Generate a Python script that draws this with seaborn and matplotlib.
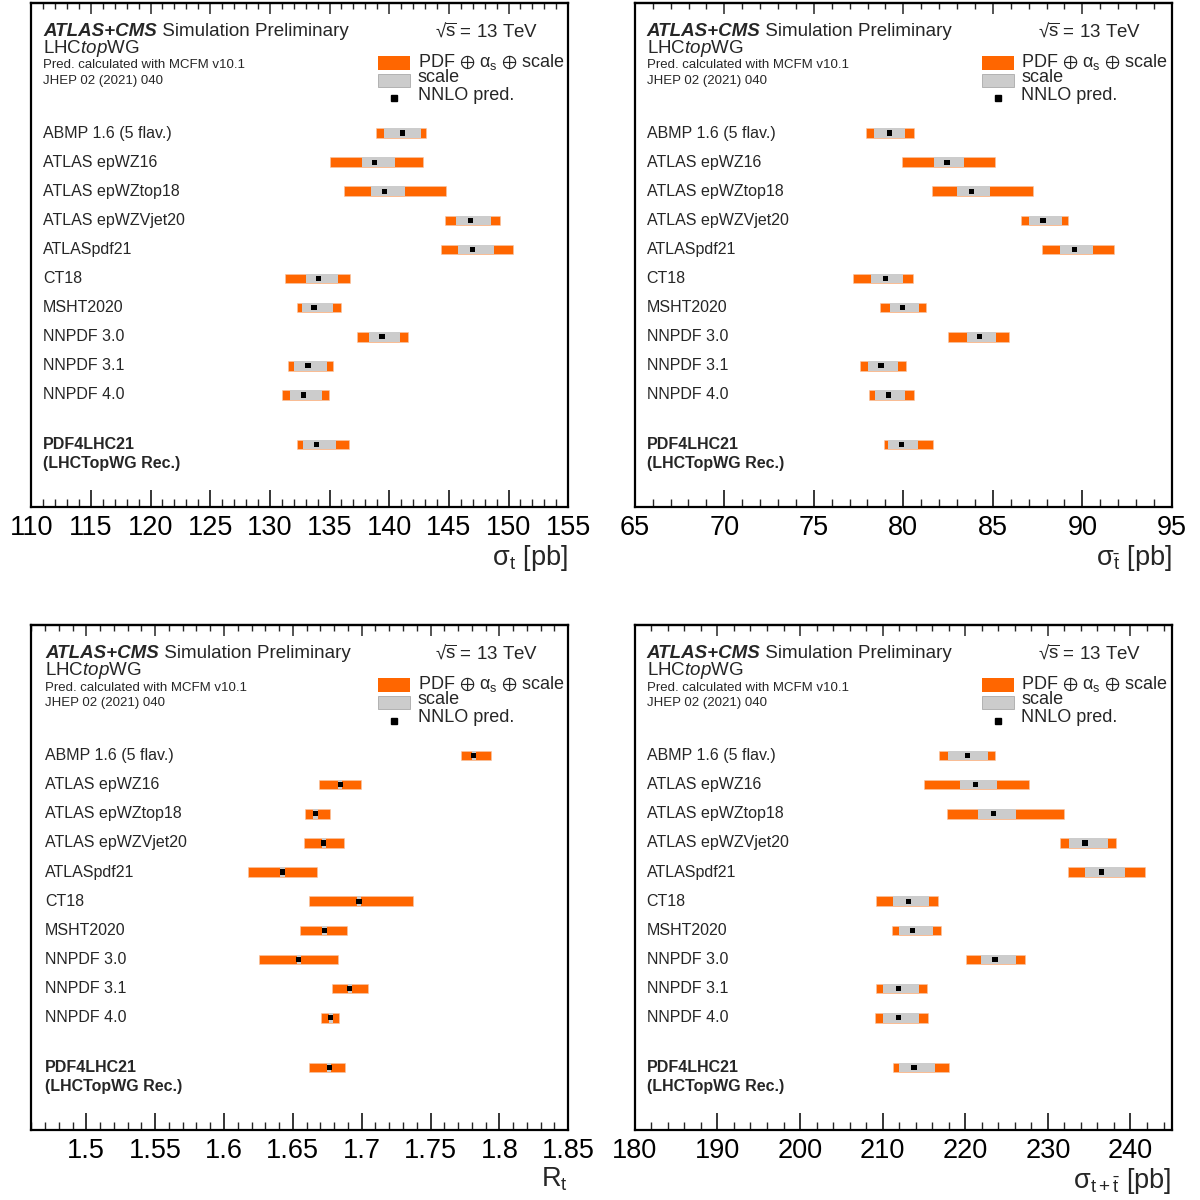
import numpy as np
import pandas as pd
import matplotlib
matplotlib.use('Agg')
import matplotlib.pyplot as plt
import seaborn as sns
from matplotlib.ticker import MultipleLocator, FuncFormatter
import matplotlib.transforms as mtransforms

sns.set_theme(style='ticks')
plt.rcParams['font.family'] = ['Liberation Sans', 'DejaVu Sans']
plt.rcParams['mathtext.fontset'] = 'custom'
plt.rcParams['mathtext.rm'] = 'Liberation Sans'
plt.rcParams['mathtext.it'] = 'Liberation Sans:italic'
plt.rcParams['mathtext.bf'] = 'Liberation Sans:bold'
plt.rcParams['mathtext.fallback'] = 'stixsans'

labels = ['ABMP 1.6 (5 flav.)', 'ATLAS epWZ16', 'ATLAS epWZtop18', 'ATLAS epWZVjet20',
          'ATLASpdf21', 'CT18', 'MSHT2020', 'NNPDF 3.0', 'NNPDF 3.1', 'NNPDF 4.0', 'PDF4LHC21']

# sigma_t [pb]
t_nom = [141.1, 138.8, 139.6, 146.8, 147.0, 134.1, 133.7, 139.4, 133.2, 132.8, 133.9]
t_pdf_lo = [138.9, 135.0, 136.2, 144.7, 144.3, 131.3, 132.3, 137.3, 131.5, 131.0, 132.3]
t_pdf_hi = [143.1, 142.8, 144.8, 149.25, 150.4, 136.7, 136.0, 141.6, 135.3, 134.95, 136.6]
t_scl_lo = [139.6, 137.7, 138.5, 145.6, 145.8, 133.0, 132.7, 138.3, 132.05, 131.7, 132.8]
t_scl_hi = [142.7, 140.45, 141.35, 148.5, 148.75, 135.7, 135.3, 140.9, 134.75, 134.4, 135.5]

# sigma_tbar [pb]
tb_nom = [79.23, 82.44, 83.8, 87.8, 89.55, 79.0, 79.96, 84.27, 78.75, 79.17, 79.9]
tb_pdf_lo = [77.93, 79.9, 81.6, 86.56, 87.74, 77.2, 78.7, 82.5, 77.6, 78.1, 78.9]
tb_pdf_hi = [80.6, 85.1, 87.27, 89.2, 91.75, 80.56, 81.27, 85.9, 80.17, 80.6, 81.66]
tb_scl_lo = [78.37, 81.7, 83.0, 87.05, 88.76, 78.2, 79.25, 83.56, 78.04, 78.43, 79.16]
tb_scl_hi = [80.1, 83.4, 84.85, 88.84, 90.6, 79.96, 80.9, 85.2, 79.7, 80.1, 80.84]

# R_t
r_nom = [1.7815, 1.6844, 1.6665, 1.6725, 1.6425, 1.698, 1.673, 1.6544, 1.6914, 1.6776, 1.6766]
r_pdf_lo = [1.7725, 1.6687, 1.659, 1.6583, 1.6176, 1.662, 1.6549, 1.6256, 1.6786, 1.6704, 1.6619]
r_pdf_hi = [1.794, 1.6994, 1.6767, 1.687, 1.6677, 1.7374, 1.689, 1.6827, 1.7045, 1.6832, 1.688]
r_scl_lo = [1.780, 1.683, 1.665, 1.671, 1.641, 1.6965, 1.6715, 1.653, 1.690, 1.676, 1.675]
r_scl_hi = [1.783, 1.686, 1.668, 1.674, 1.644, 1.6995, 1.6745, 1.656, 1.693, 1.679, 1.678]

# sigma_t+tbar [pb]
s_nom = [220.3, 221.2, 223.4, 234.5, 236.5, 213.1, 213.65, 223.6, 211.9, 211.9, 213.8]
s_pdf_lo = [216.84, 214.99, 217.8, 231.45, 232.4, 209.2, 211.15, 220.1, 209.2, 209.1, 211.2]
s_pdf_hi = [223.6, 227.75, 232.0, 238.2, 241.7, 216.7, 217.1, 227.2, 215.35, 215.5, 218.05]
s_scl_lo = [217.9, 219.4, 221.5, 232.6, 234.5, 211.2, 211.96, 221.85, 210.1, 210.1, 212.0]
s_scl_hi = [222.7, 223.8, 226.1, 237.3, 239.3, 215.6, 216.1, 226.1, 214.4, 214.4, 216.35]

ORANGE = '#ff6600'
GREY = '#cccccc'
ypos = list(range(10)) + [10.7]
BAR_H = 0.33


def draw_panel(ax, nom, pdf_lo, pdf_hi, scl_lo, scl_hi, xlim, major, minor, xlabel, xl=0.022):
    df = pd.DataFrame({'y': ypos, 'nom': nom, 'pdf_lo': pdf_lo, 'pdf_hi': pdf_hi,
                       'scl_lo': scl_lo, 'scl_hi': scl_hi})
    ax.barh(df['y'], df['pdf_hi'] - df['pdf_lo'], left=df['pdf_lo'], height=BAR_H,
            color=ORANGE, edgecolor='#f5c6a8', linewidth=0.4, zorder=2)
    ax.barh(df['y'], df['scl_hi'] - df['scl_lo'], left=df['scl_lo'], height=BAR_H,
            color=GREY, linewidth=0, zorder=3)
    sns.scatterplot(data=df, x='nom', y='y', marker='s', s=14, color='black',
                    edgecolor='none', ax=ax, zorder=4, legend=False)

    ax.set_xlim(*xlim)
    ax.set_ylim(12.85, -4.47)
    ax.set_yticks([])
    ax.set_ylabel('')
    ax.xaxis.set_major_locator(MultipleLocator(major))
    ax.xaxis.set_minor_locator(MultipleLocator(minor))
    ax.xaxis.set_major_formatter(FuncFormatter(lambda v, p: '%g' % round(v, 4)))
    ax.tick_params(axis='x', which='major', direction='in', length=12, width=1.1,
                   labelsize=19.5, pad=6, colors='black')
    ax.tick_params(axis='x', which='minor', direction='in', length=5.5, width=1.0)
    sec = ax.secondary_xaxis('top')
    sec.xaxis.set_major_locator(MultipleLocator(major))
    sec.xaxis.set_minor_locator(MultipleLocator(minor))
    sec.tick_params(axis='x', which='major', direction='in', length=8, width=1.1, labeltop=False)
    sec.tick_params(axis='x', which='minor', direction='in', length=4, width=1.0)
    for sp in ax.spines.values():
        sp.set_linewidth(1.6)
        sp.set_color('black')
    sec.spines['top'].set_linewidth(1.6)
    ax.set_xlabel(xlabel, fontsize=19.5, loc='right', labelpad=1)

    tr = mtransforms.blended_transform_factory(ax.transAxes, ax.transData)
    for lab, y in zip(labels[:-1], ypos[:-1]):
        ax.text(xl, y, lab, transform=tr, fontsize=11.5, va='center', ha='left')
    ax.text(xl, ypos[-1], 'PDF4LHC21', transform=tr, fontsize=11.5,
            fontweight='bold', va='center', ha='left')
    ax.text(xl, ypos[-1] + 0.66, '(LHCTopWG Rec.)', transform=tr, fontsize=11.5,
            fontweight='bold', va='center', ha='left')

    # header
    t1 = ax.text(xl, 0.944, 'ATLAS+CMS', transform=ax.transAxes, fontsize=13.5,
                 fontweight='bold', style='italic', va='center', ha='left')
    ax.annotate(' Simulation Preliminary', xy=(1, 0), xycoords=t1, fontsize=13.5,
                va='bottom', ha='left')
    ax.text(xl, 0.910, r'LHC$\mathit{top}$WG', transform=ax.transAxes, fontsize=13.5,
            va='center', ha='left')
    ax.text(xl, 0.876, 'Pred. calculated with MCFM v10.1', transform=ax.transAxes,
            fontsize=9.5, va='center', ha='left')
    ax.text(xl, 0.846, 'JHEP 02 (2021) 040', transform=ax.transAxes,
            fontsize=9.5, va='center', ha='left')
    ax.text(0.944, 0.944, r'√$\overline{\mathregular{s}}$ = 13 TeV', transform=ax.transAxes,
            fontsize=13.5, va='center', ha='right')

    # legend
    ax.add_patch(plt.Rectangle((0.646, 0.867), 0.06, 0.028, transform=ax.transAxes,
                               facecolor=ORANGE, edgecolor='none', clip_on=False))
    ax.add_patch(plt.Rectangle((0.646, 0.834), 0.06, 0.025, transform=ax.transAxes,
                               facecolor=GREY, edgecolor='#aaaaaa', linewidth=0.6, clip_on=False))
    ax.plot([0.676], [0.811], marker='s', markersize=3.8, color='black',
            transform=ax.transAxes, clip_on=False)
    ax.text(0.72, 0.883, r'PDF $\oplus$ α$_{\mathregular{s}}$ $\oplus$ scale',
            transform=ax.transAxes, fontsize=13, va='center', ha='left')
    ax.text(0.72, 0.852, 'scale', transform=ax.transAxes, fontsize=13, va='center', ha='left')
    ax.text(0.72, 0.8165, 'NNLO pred.', transform=ax.transAxes, fontsize=13,
            va='center', ha='left')


fig = plt.figure(figsize=(12, 12), dpi=100)
ax1 = fig.add_axes([0.026, 0.5775, 0.4475, 0.42])
ax2 = fig.add_axes([0.529, 0.5775, 0.4475, 0.42])
ax3 = fig.add_axes([0.026, 0.0583, 0.4475, 0.4207])
ax4 = fig.add_axes([0.529, 0.0583, 0.4475, 0.4207])

draw_panel(ax1, t_nom, t_pdf_lo, t_pdf_hi, t_scl_lo, t_scl_hi, (110, 155), 5, 1,
           r'σ$_{\mathregular{t}}$ [pb]')
draw_panel(ax2, tb_nom, tb_pdf_lo, tb_pdf_hi, tb_scl_lo, tb_scl_hi, (65, 95), 5, 1,
           r'σ$_{\mathregular{\bar{t}}}$ [pb]')
draw_panel(ax3, r_nom, r_pdf_lo, r_pdf_hi, r_scl_lo, r_scl_hi, (1.46, 1.85), 0.05, 0.01,
           r'R$_{\mathregular{t}}$', xl=0.026)
draw_panel(ax4, s_nom, s_pdf_lo, s_pdf_hi, s_scl_lo, s_scl_hi, (180, 245), 10, 2,
           r'σ$_{\mathregular{t+\bar{t}}}$ [pb]')

fig.savefig('out.png', dpi=100)
